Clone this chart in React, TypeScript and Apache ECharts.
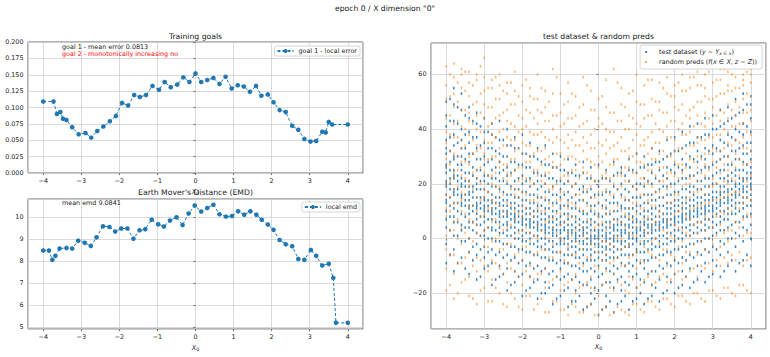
import React, { useEffect, useRef } from "react";
import * as echarts from "echarts";

const FONT = "DejaVu Sans";
const BLUE = "#1f77b4";
const ORANGE = "#ff7f0e";

const SUPTITLE = 'epoch 0 / X dimension "0"';
const TITLE_GOALS = "Training goals";
const TITLE_EMD = "Earth Mover's Distance (EMD)";
const TITLE_SCATTER = "test dataset & random preds";
const NOTE_GOAL1 = "goal 1 - mean error 0.0813";
const NOTE_GOAL2 = "goal 2 - monotonically increasing no";
const NOTE_EMD = "mean emd 9.0841";

const GOAL_X = [
  -4.0, -3.73, -3.64, -3.55, -3.48, -3.39, -3.24, -3.07, -2.89, -2.74, -2.58, -2.42, -2.25,
  -2.09, -1.93, -1.77, -1.61, -1.46, -1.3, -1.13, -0.96, -0.81, -0.65, -0.48, -0.32, -0.16,
  0.0, 0.15, 0.31, 0.47, 0.63, 0.79, 0.95, 1.11, 1.27, 1.43, 1.59, 1.73, 1.9, 2.05, 2.21,
  2.37, 2.54, 2.7, 2.86, 3.02, 3.17, 3.33, 3.42, 3.5, 3.59, 4.0,
];
const GOAL_ERR = [
  0.109, 0.109, 0.09, 0.093, 0.083, 0.081, 0.07, 0.059, 0.061, 0.054, 0.064, 0.071, 0.079,
  0.087, 0.107, 0.103, 0.119, 0.116, 0.119, 0.133, 0.127, 0.139, 0.131, 0.135, 0.146, 0.139,
  0.152, 0.139, 0.142, 0.145, 0.136, 0.147, 0.129, 0.134, 0.132, 0.124, 0.133, 0.118, 0.12,
  0.108, 0.096, 0.093, 0.072, 0.066, 0.052, 0.048, 0.049, 0.063, 0.062, 0.078, 0.074, 0.074,
];

const EMD_X = [
  -4.0, -3.85, -3.76, -3.68, -3.57, -3.39, -3.24, -3.08, -2.91, -2.75, -2.6, -2.43, -2.26,
  -2.11, -1.95, -1.79, -1.63, -1.47, -1.32, -1.15, -0.98, -0.83, -0.67, -0.5, -0.34, -0.18,
  -0.02, 0.15, 0.31, 0.47, 0.63, 0.8, 0.96, 1.12, 1.28, 1.44, 1.6, 1.74, 1.9, 2.05, 2.21,
  2.37, 2.54, 2.7, 2.86, 3.03, 3.17, 3.33, 3.5, 3.62, 3.69, 4.0,
];
const EMD_VAL = [
  8.49, 8.49, 8.07, 8.25, 8.58, 8.61, 8.58, 8.94, 8.84, 8.7, 9.09, 9.59, 9.56, 9.35, 9.49,
  9.49, 9.03, 9.41, 9.46, 9.89, 9.68, 9.58, 9.85, 10.0, 9.65, 10.17, 10.53, 10.26, 10.42,
  10.57, 10.14, 10.03, 10.06, 10.27, 10.12, 10.27, 10.12, 9.89, 9.67, 9.43, 8.97, 8.78,
  8.69, 8.11, 8.07, 8.52, 8.25, 7.81, 7.89, 7.25, 5.21, 5.21,
];

// scatter columns (even tenths)
const SCATTER_X = [
  -4.0, -3.8, -3.6, -3.4, -3.2, -3.0, -2.8, -2.6, -2.4, -2.2, -2.0, -1.8, -1.6, -1.4, -1.2,
  -1.0, -0.8, -0.6, -0.4, -0.2, 0.0, 0.2, 0.4, 0.6, 0.8, 1.0, 1.2, 1.4, 1.6, 1.8, 2.0, 2.2,
  2.4, 2.6, 2.8, 3.0, 3.2, 3.4, 3.6, 3.8, 4.0,
];

const TEST_Y = [
  [-9, -2, 4, 7, 10, 13, 14, 16, 19, 20, 21, 24, 26, 27, 31, 33, 36, 41, 45, 50],
  [-12, -4, 1, 6, 8, 11, 13, 16, 17, 18, 22, 23, 25, 29, 30, 34, 38, 43, 49, 55],
  [-7, -1, 3, 5, 9, 12, 13, 15, 16, 19, 20, 22, 25, 27, 30, 33, 36, 40, 47, 53],
  [-13, -5, 0, 4, 6, 9, 11, 12, 14, 16, 17, 19, 21, 24, 28, 31, 35, 39, 44, 48],
  [-15, -6, -2, 2, 5, 7, 9, 11, 12, 13, 15, 18, 20, 22, 25, 29, 33, 37, 42, 46],
  [-11, -7, -3, 1, 3, 6, 8, 10, 11, 12, 14, 15, 18, 21, 23, 27, 30, 35, 39, 44],
  [-17, -9, -4, 0, 3, 4, 7, 9, 10, 11, 13, 14, 16, 19, 22, 25, 29, 33, 38, 42],
  [-14, -10, -5, -1, 2, 4, 6, 8, 9, 10, 12, 13, 15, 18, 21, 24, 28, 31, 36, 43],
  [-19, -11, -6, -2, 1, 3, 5, 6, 8, 9, 10, 12, 14, 16, 20, 23, 26, 30, 34, 40],
  [-16, -12, -7, -3, 0, 2, 4, 6, 7, 8, 9, 11, 13, 15, 18, 21, 25, 28, 33, 37],
  [-21, -13, -8, -4, -1, 1, 3, 5, 6, 7, 8, 10, 12, 14, 17, 20, 23, 27, 31, 38],
  [-18, -14, -9, -5, -2, 0, 2, 4, 5, 6, 7, 9, 11, 13, 16, 19, 22, 26, 30, 35],
  [-22, -15, -10, -6, -3, -1, 1, 3, 4, 5, 6, 8, 10, 12, 15, 18, 21, 24, 29, 33],
  [-20, -16, -11, -7, -4, -2, 0, 2, 3, 4, 5, 7, 9, 11, 14, 17, 20, 23, 27, 34],
  [-24, -17, -12, -8, -5, -3, -1, 1, 2, 3, 4, 6, 8, 10, 13, 16, 19, 22, 26, 31],
  [-21, -15, -11, -8, -5, -2, -1, 0, 2, 3, 5, 6, 8, 11, 12, 15, 18, 21, 25, 30],
  [-25, -18, -13, -9, -6, -4, -2, 0, 1, 2, 3, 5, 7, 9, 12, 14, 17, 21, 24, 29],
  [-23, -19, -14, -10, -7, -5, -3, -1, 0, 1, 2, 4, 6, 8, 11, 13, 16, 20, 23, 27],
  [-26, -17, -12, -9, -6, -4, -2, -1, 1, 2, 3, 4, 6, 9, 10, 14, 17, 19, 24, 28],
  [-24, -20, -15, -11, -8, -6, -4, -2, -1, 0, 1, 3, 5, 7, 10, 12, 15, 18, 22, 26],
  [-28, -19, -14, -10, -7, -5, -3, -2, 0, 1, 2, 3, 5, 8, 9, 13, 16, 19, 21, 27],
  [-25, -21, -16, -11, -8, -6, -4, -3, -1, 0, 1, 2, 4, 6, 9, 11, 14, 17, 22, 25],
  [-27, -18, -13, -10, -7, -5, -3, -1, 0, 1, 3, 4, 5, 7, 10, 13, 15, 19, 23, 28],
  [-23, -19, -14, -9, -6, -4, -2, -1, 1, 2, 3, 5, 6, 8, 11, 12, 16, 20, 24, 26],
  [-26, -17, -12, -9, -6, -3, -2, 0, 1, 2, 4, 5, 7, 9, 11, 14, 17, 21, 25, 29],
  [-22, -18, -13, -8, -5, -4, -1, 0, 2, 3, 4, 6, 7, 10, 12, 15, 18, 20, 24, 31],
  [-24, -16, -11, -8, -5, -2, -1, 1, 2, 3, 5, 6, 8, 10, 13, 16, 19, 22, 26, 30],
  [-21, -17, -12, -7, -4, -2, 0, 2, 3, 4, 5, 7, 9, 11, 14, 16, 20, 24, 27, 33],
  [-23, -15, -10, -6, -3, -1, 1, 3, 4, 5, 6, 8, 10, 12, 15, 18, 21, 25, 28, 32],
  [-19, -14, -9, -5, -2, 0, 2, 4, 5, 6, 7, 9, 11, 13, 16, 19, 22, 26, 30, 36],
  [-20, -13, -8, -4, -1, 1, 3, 5, 6, 7, 8, 10, 12, 14, 17, 20, 24, 27, 32, 37],
  [-17, -12, -7, -3, 0, 2, 4, 6, 7, 8, 9, 11, 13, 15, 18, 22, 25, 29, 33, 39],
  [-18, -11, -6, -2, 1, 3, 5, 7, 8, 9, 10, 12, 14, 17, 19, 23, 26, 30, 35, 41],
  [-15, -10, -5, -1, 2, 4, 6, 8, 9, 10, 11, 13, 15, 18, 21, 24, 28, 32, 37, 42],
  [-16, -9, -4, 0, 3, 5, 7, 9, 10, 11, 12, 14, 16, 19, 22, 26, 29, 33, 38, 44],
  [-13, -8, -3, 1, 4, 6, 8, 10, 11, 12, 14, 15, 17, 20, 23, 27, 31, 34, 40, 45],
  [-14, -6, -1, 3, 6, 8, 10, 12, 13, 14, 16, 17, 19, 22, 25, 29, 32, 36, 41, 47],
  [-10, -5, 0, 4, 7, 9, 11, 13, 14, 15, 17, 18, 21, 23, 27, 30, 34, 38, 43, 48],
  [-12, -3, 2, 6, 9, 11, 13, 15, 16, 17, 19, 20, 23, 25, 29, 32, 36, 40, 45, 51],
  [-8, -1, 4, 8, 11, 13, 15, 17, 18, 19, 21, 22, 25, 28, 31, 34, 38, 42, 47, 53],
  [-10, 0, 5, 9, 12, 14, 16, 18, 19, 20, 22, 24, 26, 29, 32, 35, 39, 44, 49, 52],
];

const PRED_Y = [
  [-19, -11, -4, 1, 8, 11, 16, 20, 26, 29, 35, 39, 44, 51, 56, 63],
  [-22, -13, -6, 3, 6, 13, 18, 22, 24, 31, 37, 42, 48, 53, 59, 64],
  [-16, -9, -2, 4, 10, 14, 17, 23, 28, 33, 36, 41, 47, 55, 60, 62],
  [-21, -14, -5, 0, 7, 12, 19, 21, 27, 30, 38, 43, 46, 52, 57, 61],
  [-24, -12, -7, 2, 5, 10, 15, 22, 25, 32, 34, 40, 45, 50, 58, 60],
  [-18, -10, -3, 3, 9, 15, 18, 24, 29, 31, 36, 44, 49, 54, 59, 66],
  [-23, -15, -8, -1, 6, 11, 14, 20, 23, 30, 35, 38, 42, 48, 55, 58],
  [-20, -11, -4, 1, 5, 12, 17, 19, 26, 28, 33, 39, 45, 51, 56, 60],
  [-25, -16, -9, -2, 4, 9, 13, 21, 24, 27, 34, 37, 43, 47, 53, 57],
  [-22, -12, -6, 0, 7, 10, 16, 18, 25, 29, 32, 36, 41, 49, 54, 61],
  [-26, -17, -8, -3, 3, 8, 12, 17, 22, 26, 31, 35, 40, 44, 50, 56],
  [-21, -14, -10, -1, 2, 9, 14, 19, 21, 28, 30, 34, 39, 46, 52, 55],
  [-24, -13, -5, 0, 5, 11, 13, 16, 23, 25, 32, 38, 42, 47, 51, 60],
  [-27, -18, -11, -4, 1, 6, 10, 15, 20, 24, 29, 33, 37, 43, 48, 54],
  [-23, -15, -7, -2, 4, 7, 12, 18, 19, 26, 28, 35, 40, 45, 53, 62],
  [-26, -19, -12, -5, 0, 5, 9, 14, 17, 22, 27, 31, 36, 41, 46, 53],
  [-28, -16, -9, -3, 2, 8, 11, 13, 21, 23, 30, 33, 38, 44, 50, 57],
  [-25, -20, -13, -6, -1, 3, 7, 12, 16, 20, 25, 29, 34, 39, 45, 52],
  [-27, -17, -10, -4, 1, 4, 10, 14, 18, 24, 26, 32, 37, 42, 49, 59],
  [-24, -18, -14, -7, -2, 2, 6, 11, 15, 19, 23, 28, 33, 38, 47, 54],
  [-28, -21, -11, -5, 0, 5, 8, 13, 17, 21, 26, 30, 35, 41, 44, 51],
  [-25, -16, -12, -6, -1, 3, 9, 12, 18, 22, 24, 31, 36, 40, 48, 58],
  [-27, -19, -13, -8, -3, 1, 7, 10, 16, 20, 27, 29, 34, 39, 46, 62],
  [-26, -17, -10, -4, 0, 6, 10, 15, 19, 23, 25, 32, 37, 43, 49, 55],
  [-28, -20, -14, -7, -2, 2, 8, 11, 14, 21, 26, 30, 33, 40, 45, 53],
  [-24, -18, -11, -5, 1, 4, 9, 13, 18, 24, 28, 31, 38, 42, 50, 60],
  [-27, -15, -9, -3, 3, 7, 11, 16, 20, 22, 27, 34, 36, 44, 49, 56],
  [-23, -17, -12, -6, -1, 5, 12, 14, 19, 25, 29, 33, 39, 45, 51, 58],
  [-26, -14, -8, -2, 4, 8, 10, 17, 21, 26, 31, 35, 40, 47, 50, 57],
  [-22, -16, -10, -4, 2, 6, 13, 18, 22, 24, 30, 37, 41, 46, 53, 59],
  [-25, -13, -7, 0, 5, 9, 14, 16, 23, 28, 32, 36, 43, 48, 52, 56],
  [-21, -15, -9, -1, 3, 10, 12, 19, 24, 27, 33, 38, 42, 49, 54, 60],
  [-24, -12, -5, 1, 7, 11, 15, 20, 22, 29, 34, 39, 44, 47, 55, 59],
  [-20, -14, -6, 2, 6, 12, 17, 21, 26, 30, 35, 37, 45, 50, 56, 61],
  [-23, -11, -4, 3, 8, 13, 16, 23, 27, 31, 36, 41, 46, 52, 55, 60],
  [-19, -12, -2, 4, 9, 14, 19, 22, 28, 33, 37, 42, 48, 51, 57, 63],
  [-22, -10, -3, 5, 10, 15, 18, 24, 29, 32, 38, 43, 47, 53, 58, 62],
  [-18, -9, -1, 3, 11, 16, 20, 25, 30, 35, 39, 44, 49, 54, 56, 61],
  [-21, -8, 0, 6, 12, 17, 21, 26, 31, 36, 41, 45, 50, 55, 59, 64],
  [-17, -10, 1, 7, 13, 15, 22, 27, 33, 37, 42, 46, 51, 56, 58, 60],
  [-20, -7, 2, 8, 14, 18, 23, 28, 32, 38, 43, 47, 52, 57, 60, 62],
];

// scatter columns (odd tenths)
const SCATTER_X_MID = [
  -3.9, -3.7, -3.5, -3.3, -3.1, -2.9, -2.7, -2.5, -2.3, -2.1, -1.9, -1.7, -1.5, -1.3, -1.1,
  -0.9, -0.7, -0.5, -0.3, -0.1, 0.1, 0.3, 0.5, 0.7, 0.9, 1.1, 1.3, 1.5, 1.7, 1.9, 2.1, 2.3,
  2.5, 2.7, 2.9, 3.1, 3.3, 3.5, 3.7, 3.9,
];

const TEST_Y_MID = [
  [-6, 3, 8, 12, 15, 18, 20, 22, 25, 28, 32, 37, 43, 51],
  [-9, 1, 6, 10, 13, 16, 18, 21, 23, 27, 30, 35, 42, 48],
  [-11, -1, 4, 8, 12, 14, 16, 19, 21, 24, 29, 33, 38, 45],
  [-8, -3, 3, 6, 10, 12, 15, 17, 19, 23, 26, 31, 37, 43],
  [-14, -4, 1, 5, 8, 11, 13, 15, 18, 21, 25, 29, 34, 41],
  [-10, -5, 0, 4, 7, 10, 12, 14, 17, 20, 23, 28, 33, 39],
  [-15, -6, -1, 3, 6, 9, 11, 13, 15, 19, 22, 26, 32, 37],
  [-13, -7, -2, 2, 5, 8, 10, 12, 14, 17, 21, 25, 30, 36],
  [-17, -8, -3, 1, 4, 7, 9, 11, 13, 16, 19, 24, 28, 34],
  [-14, -9, -4, 0, 3, 6, 8, 10, 12, 15, 18, 22, 27, 33],
  [-19, -10, -5, -1, 2, 5, 7, 9, 11, 14, 17, 21, 26, 31],
  [-16, -11, -6, -2, 1, 4, 6, 8, 10, 13, 16, 20, 24, 30],
  [-20, -12, -7, -3, 0, 3, 5, 7, 9, 12, 15, 19, 23, 28],
  [-18, -13, -8, -4, -1, 2, 4, 6, 8, 11, 14, 17, 22, 27],
  [-22, -14, -9, -5, -2, 1, 3, 5, 7, 10, 13, 16, 21, 26],
  [-19, -14, -9, -6, -2, 0, 3, 4, 6, 9, 12, 16, 20, 25],
  [-23, -15, -10, -6, -3, -1, 2, 3, 5, 8, 11, 15, 19, 24],
  [-21, -16, -11, -7, -4, -1, 1, 3, 5, 7, 10, 14, 18, 23],
  [-25, -17, -12, -8, -4, -2, 0, 2, 4, 6, 9, 13, 17, 22],
  [-22, -18, -12, -8, -5, -2, 0, 1, 3, 6, 9, 12, 16, 21],
  [-26, -17, -13, -8, -5, -3, -1, 1, 3, 5, 8, 12, 16, 22],
  [-23, -16, -12, -7, -4, -2, 0, 2, 4, 6, 9, 13, 17, 21],
  [-24, -15, -11, -7, -4, -1, 1, 3, 5, 7, 10, 13, 18, 24],
  [-21, -16, -10, -6, -3, -1, 2, 3, 5, 8, 11, 14, 18, 23],
  [-23, -14, -10, -6, -2, 0, 2, 4, 6, 8, 11, 15, 19, 25],
  [-20, -15, -9, -5, -2, 1, 3, 4, 6, 9, 12, 15, 20, 26],
  [-22, -13, -8, -4, -1, 2, 4, 5, 7, 10, 13, 16, 21, 27],
  [-18, -12, -7, -3, 0, 3, 5, 6, 8, 11, 14, 17, 22, 28],
  [-20, -11, -6, -2, 1, 4, 6, 7, 9, 12, 15, 19, 23, 29],
  [-16, -10, -5, -1, 2, 5, 7, 9, 11, 13, 16, 20, 25, 31],
  [-18, -9, -4, 0, 3, 6, 8, 10, 12, 14, 17, 21, 26, 32],
  [-14, -8, -3, 1, 4, 7, 9, 11, 13, 15, 18, 22, 27, 34],
  [-16, -7, -2, 2, 5, 8, 10, 12, 14, 16, 19, 23, 29, 35],
  [-12, -6, -1, 3, 6, 9, 11, 13, 15, 18, 21, 25, 30, 37],
  [-14, -5, 0, 4, 7, 10, 12, 14, 16, 19, 22, 26, 32, 38],
  [-10, -4, 2, 5, 9, 11, 13, 15, 17, 20, 24, 28, 33, 40],
  [-12, -2, 3, 7, 10, 13, 15, 17, 19, 22, 25, 30, 35, 42],
  [-8, 0, 5, 9, 12, 14, 16, 18, 21, 24, 27, 32, 37, 44],
  [-9, 1, 6, 10, 13, 16, 18, 20, 22, 25, 29, 33, 39, 46],
  [-6, 3, 8, 12, 15, 17, 19, 22, 24, 27, 31, 35, 41, 49],
];

const PRED_Y_MID = [
  [-17, -6, 3, 10, 15, 21, 27, 32, 38, 45, 52, 60],
  [-20, -9, 0, 7, 13, 19, 25, 30, 37, 43, 50, 57],
  [-15, -7, 2, 9, 16, 22, 28, 34, 40, 47, 54, 61],
  [-22, -10, -1, 6, 12, 18, 24, 31, 36, 42, 49, 56],
  [-19, -8, 1, 8, 14, 20, 26, 33, 39, 46, 53, 63],
  [-23, -12, -3, 4, 11, 17, 23, 29, 35, 41, 48, 55],
  [-18, -9, 0, 7, 13, 19, 24, 30, 37, 44, 51, 59],
  [-24, -13, -4, 3, 10, 16, 22, 27, 34, 40, 46, 54],
  [-20, -11, -2, 5, 12, 18, 23, 29, 36, 42, 49, 57],
  [-25, -14, -5, 2, 9, 15, 21, 26, 33, 39, 45, 52],
  [-21, -12, -3, 4, 11, 16, 22, 28, 34, 41, 47, 58],
  [-26, -15, -6, 1, 8, 14, 20, 25, 31, 38, 44, 51],
  [-22, -13, -4, 3, 10, 15, 21, 27, 32, 39, 46, 55],
  [-27, -16, -7, 0, 7, 13, 18, 24, 30, 36, 43, 50],
  [-23, -14, -5, 2, 9, 14, 20, 26, 31, 37, 45, 59],
  [-26, -17, -8, -1, 6, 12, 17, 23, 29, 35, 42, 49],
  [-24, -15, -6, 1, 8, 13, 19, 25, 30, 36, 44, 53],
  [-27, -18, -9, -2, 5, 11, 16, 22, 28, 34, 41, 48],
  [-25, -16, -7, 0, 7, 12, 18, 24, 29, 35, 43, 56],
  [-28, -19, -10, -3, 4, 10, 15, 21, 27, 33, 40, 47],
  [-26, -17, -8, -1, 6, 11, 17, 23, 28, 34, 42, 52],
  [-28, -18, -9, -2, 5, 10, 16, 22, 27, 33, 39, 46],
  [-25, -16, -7, 0, 6, 12, 18, 23, 29, 35, 43, 57],
  [-27, -19, -10, -3, 4, 9, 15, 21, 26, 32, 40, 48],
  [-24, -15, -6, 1, 7, 13, 19, 24, 30, 36, 44, 54],
  [-26, -17, -8, -1, 5, 11, 16, 22, 28, 34, 41, 49],
  [-23, -14, -5, 2, 8, 14, 20, 25, 31, 37, 45, 58],
  [-25, -16, -7, 0, 6, 12, 17, 23, 29, 35, 42, 50],
  [-22, -13, -4, 3, 9, 15, 21, 26, 32, 39, 46, 55],
  [-24, -15, -6, 1, 7, 13, 19, 24, 30, 37, 43, 52],
  [-21, -12, -3, 4, 10, 16, 22, 27, 33, 40, 47, 57],
  [-23, -14, -5, 2, 8, 14, 20, 26, 31, 38, 45, 54],
  [-20, -11, -2, 5, 11, 17, 23, 28, 34, 41, 48, 59],
  [-22, -10, -1, 6, 12, 18, 24, 29, 36, 42, 50, 56],
  [-19, -9, 0, 7, 13, 19, 25, 31, 37, 44, 51, 61],
  [-21, -8, 1, 8, 14, 20, 26, 32, 38, 45, 52, 58],
  [-18, -7, 2, 9, 15, 21, 27, 33, 40, 46, 53, 62],
  [-20, -6, 3, 10, 16, 22, 28, 34, 41, 47, 54, 60],
  [-17, -5, 4, 11, 17, 23, 29, 35, 42, 48, 55, 63],
  [-19, -8, 2, 9, 15, 21, 27, 33, 39, 46, 53, 61],
];

const TEXT = "#222";
const GRIDLINE = "#d0d0d0";
const TICK_FS = 6.4;
const TITLE_FS = 7.7;

const fmtInt = (v: number) => {
  if (Math.abs(v - Math.round(v)) > 1e-6) return "";
  const r = Math.round(v);
  return r < 0 ? "\u2212" + Math.abs(r) : String(r);
};

const xName = {
  name: "{i|X}{s|0}",
  nameLocation: "middle",
  nameTextStyle: {
    rich: {
      i: { fontStyle: "italic", fontSize: TICK_FS, fontFamily: FONT, color: TEXT },
      s: { fontSize: 4.6, fontFamily: FONT, color: TEXT, padding: [3, 0, 0, 0] },
    },
  },
};

function valueAxisBase(gridIndex: number) {
  return {
    type: "value",
    gridIndex,
    axisLine: { show: false },
    axisTick: { show: true, length: 2.2, lineStyle: { color: "#444", width: 0.7 } },
    axisLabel: { fontSize: TICK_FS, fontFamily: FONT, color: TEXT, margin: 4.5 },
    splitLine: { show: true, lineStyle: { color: GRIDLINE, width: 0.8 } },
  };
}

function xAxisFor(gridIndex: number, gap: number) {
  const base = valueAxisBase(gridIndex);
  return {
    ...base,
    ...xName,
    nameGap: gap,
    min: -4.4,
    max: 4.4,
    splitNumber: 9,
    axisLabel: { ...base.axisLabel, formatter: fmtInt, showMinLabel: false, showMaxLabel: false },
  };
}

export default function App() {
  const ref = useRef<HTMLDivElement>(null);

  useEffect(() => {
    if (!ref.current) return;
    const chart = echarts.init(ref.current, undefined, { renderer: "svg" });

    const goalData = GOAL_X.map((x, i) => [x, GOAL_ERR[i]]);
    const emdData = EMD_X.map((x, i) => [x, EMD_VAL[i]]);
    const testData: number[][] = [];
    const predData: number[][] = [];
    SCATTER_X.forEach((x, i) => {
      TEST_Y[i].forEach((y) => testData.push([x, y]));
      PRED_Y[i].forEach((y) => predData.push([x, y]));
    });
    SCATTER_X_MID.forEach((x, i) => {
      TEST_Y_MID[i].forEach((y) => testData.push([x, y]));
      PRED_Y_MID[i].forEach((y) => predData.push([x, y]));
    });

    const gridStyle = { show: true, borderColor: "#444", borderWidth: 0.8, backgroundColor: "#fff" };

    const legendBase = {
      orient: "vertical",
      borderColor: "#ccc",
      borderWidth: 0.8,
      borderRadius: 2,
      backgroundColor: "#fff",
      textStyle: { fontSize: TICK_FS, fontFamily: FONT, color: TEXT },
    };

    const lineSeries = (name: string, data: number[][], idx: number) => ({
      type: "line",
      name,
      xAxisIndex: idx,
      yAxisIndex: idx,
      data,
      color: BLUE,
      symbol: "circle",
      symbolSize: 4.6,
      showAllSymbol: true,
      lineStyle: { color: BLUE, width: 1, type: [3, 2] },
      itemStyle: { color: BLUE },
      z: 3,
    });

    const option: any = {
      animation: false,
      textStyle: { fontFamily: FONT },
      grid: [
        { left: 28, top: 42, width: 335, height: 131, ...gridStyle },
        { left: 28, top: 199, width: 335, height: 130, ...gridStyle },
        { left: 431, top: 43, width: 335, height: 286, ...gridStyle },
      ],
      xAxis: [xAxisFor(0, 15), xAxisFor(1, 15), xAxisFor(2, 14)],
      yAxis: [
        {
          ...valueAxisBase(0),
          min: 0,
          max: 0.2,
          interval: 0.025,
          axisLabel: { ...valueAxisBase(0).axisLabel, formatter: (v: number) => v.toFixed(3) },
        },
        {
          ...valueAxisBase(1),
          min: 4.93,
          max: 10.83,
          splitNumber: 6,
          axisLabel: { ...valueAxisBase(1).axisLabel, formatter: fmtInt, showMinLabel: false, showMaxLabel: false },
        },
        {
          ...valueAxisBase(2),
          min: -33.1,
          max: 71.5,
          splitNumber: 5,
          axisLabel: { ...valueAxisBase(2).axisLabel, formatter: fmtInt, showMinLabel: false, showMaxLabel: false },
        },
      ],
      legend: [
        {
          ...legendBase,
          data: ["goal 1 - local error"],
          right: 410,
          top: 46,
          padding: [2, 3, 2, 2],
          itemWidth: 16,
          itemHeight: 5,
        },
        {
          ...legendBase,
          data: ["local emd"],
          right: 410,
          top: 202,
          padding: [2, 3, 2, 2],
          itemWidth: 16,
          itemHeight: 5,
        },
        {
          ...legendBase,
          data: ["test dataset", "random preds"],
          right: 8,
          top: 45,
          padding: [4, 5, 4, 5],
          itemWidth: 2,
          itemHeight: 2,
          itemGap: 3,
          formatter: (name: string) =>
            name === "test dataset"
              ? "test dataset ({i|y} \u223C {i|Y}{s|x \u2208 x})"
              : "random preds ({i|f}({i|x} \u2208 {i|X}, {i|z} \u223C {i|Z}))",
          textStyle: {
            fontSize: TICK_FS,
            fontFamily: FONT,
            color: TEXT,
            padding: [0, 0, 0, 7],
            rich: {
              i: { fontStyle: "italic", fontSize: TICK_FS, fontFamily: FONT, color: TEXT },
              s: { fontStyle: "italic", fontSize: 4.6, fontFamily: FONT, color: TEXT, padding: [3, 0, 0, 0] },
            },
          },
        },
      ],
      series: [
        lineSeries("goal 1 - local error", goalData, 0),
        lineSeries("local emd", emdData, 1),
        {
          type: "scatter",
          name: "test dataset",
          xAxisIndex: 2,
          yAxisIndex: 2,
          data: testData,
          symbol: "rect",
          symbolSize: [1.5, 2.6],
          itemStyle: { color: BLUE, opacity: 0.9 },
          z: 2,
        },
        {
          type: "scatter",
          name: "random preds",
          xAxisIndex: 2,
          yAxisIndex: 2,
          data: predData,
          symbol: "rect",
          symbolSize: [1.5, 2.6],
          itemStyle: { color: ORANGE, opacity: 0.6 },
          z: 3,
        },
      ],
      graphic: [
        {
          type: "text",
          x: 385,
          y: 8,
          style: { text: SUPTITLE, fontSize: TITLE_FS, fontFamily: FONT, fill: TEXT, textAlign: "center", textVerticalAlign: "middle" },
        },
        {
          type: "text",
          x: 195.5,
          y: 36,
          style: { text: TITLE_GOALS, fontSize: TITLE_FS, fontFamily: FONT, fill: TEXT, textAlign: "center", textVerticalAlign: "middle" },
        },
        {
          type: "text",
          x: 195.5,
          y: 192,
          style: { text: TITLE_EMD, fontSize: TITLE_FS, fontFamily: FONT, fill: TEXT, textAlign: "center", textVerticalAlign: "middle" },
        },
        {
          type: "text",
          x: 598.5,
          y: 36,
          style: { text: TITLE_SCATTER, fontSize: TITLE_FS, fontFamily: FONT, fill: TEXT, textAlign: "center", textVerticalAlign: "middle" },
        },
        {
          type: "text",
          x: 62,
          y: 47.3,
          z: 10,
          style: { text: NOTE_GOAL1, fontSize: TICK_FS, fontFamily: FONT, fill: TEXT, textAlign: "left", textVerticalAlign: "middle" },
        },
        {
          type: "text",
          x: 62,
          y: 54,
          z: 10,
          style: { text: NOTE_GOAL2, fontSize: TICK_FS, fontFamily: FONT, fill: "#ff0000", textAlign: "left", textVerticalAlign: "middle" },
        },
        {
          type: "text",
          x: 62,
          y: 203.3,
          z: 10,
          style: { text: NOTE_EMD, fontSize: TICK_FS, fontFamily: FONT, fill: TEXT, textAlign: "left", textVerticalAlign: "middle" },
        },
      ],
    };

    chart.setOption(option);
    return () => chart.dispose();
  }, []);

  return <div ref={ref} style={{ width: 770, height: 357, position: "absolute", left: 0, top: 0, background: "#fff" }} />;
}
